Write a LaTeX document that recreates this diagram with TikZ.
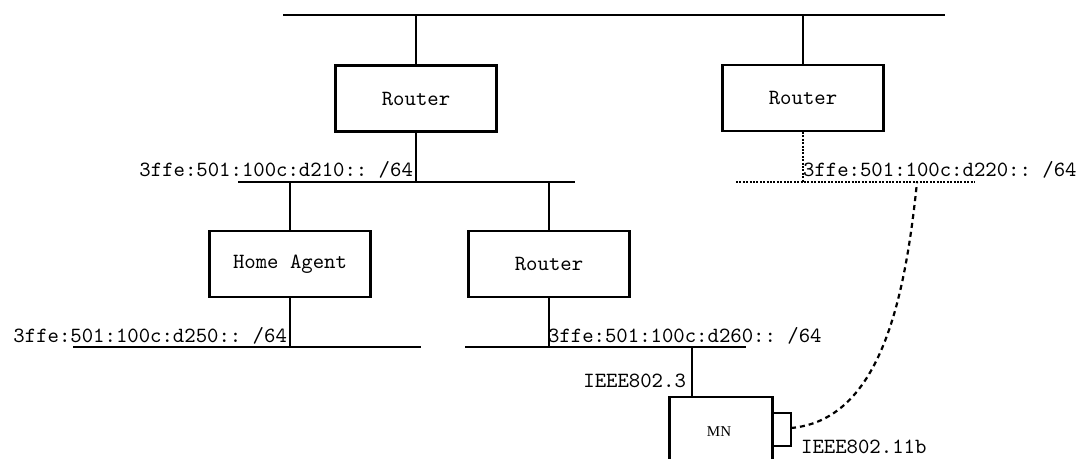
\documentclass[tikz,border=0pt]{standalone}
\usepackage{fontspec}
\newfontfamily\mnfont{Liberation Serif}
\usepackage{tikz}
\usetikzlibrary{positioning}

\begin{document}
\frenchspacing
\begin{tikzpicture}[x=0.5pt, y=-0.5pt, line width=1.1pt,
	box/.style={draw, line width=1.1pt, minimum width=80.5pt, minimum height=33pt, inner sep=0pt, font=\ttfamily\fontsize{10.85}{12}\selectfont},
	net/.style={inner sep=0pt, font=\ttfamily\fontsize{10.85}{12}\selectfont},
	wlan/.style={dash pattern=on 2.5pt off 2pt},
	link/.style={dash pattern=on 1pt off 0.7pt}]

\clip (0,0) rectangle (1079,459); % page

\coordinate (top w) at (283,15);
\coordinate (top e) at (945,15);
\coordinate (lan210 w) at (238,182);
\coordinate (lan210 e) at (575,182);
\coordinate (lan250 w) at (73,347);
\coordinate (lan250 e) at (421,347);
\coordinate (lan260 w) at (465,347);
\coordinate (lan260 e) at (746,347);
\coordinate (lan220 w) at (736,182);
\coordinate (lan220 e) at (975,182);
\coordinate (lan220 ap) at (917,182);

\foreach \n in {top, lan210, lan250, lan260} {
	\draw (\n\space w) -- (\n\space e); % subnet
}
\draw[link] (lan220 w) -- (lan220 e); % foreign subnet

\node[box] (r1) at (416,98.5) {Router};
\node[box] (r2) at (803,98) {Router};
\node[box] (ha) at (290,264) {Home Agent};
\node[box] (r3) at (549,264) {\raisebox{-3pt}{Router}};
\node[draw, minimum width=51.5pt, minimum height=35pt, font=\mnfont\fontsize{7.5}{9}\selectfont] (mn) at (721,432) {\hspace*{-2pt}MN};

\draw (r1) -- (r1 |- top w);
\draw (r1) -- (r1 |- lan210 w);
\draw (r2) -- (r2 |- top w);
\draw[link] (r2) -- (r2 |- lan220 w);
\draw (ha) -- (ha |- lan210 w);
\draw (ha) -- (ha |- lan250 w);
\draw (r3) -- (r3 |- lan210 w);
\draw (r3) -- (r3 |- lan260 w);

\coordinate (mn wire) at (692,397);
\draw (mn wire) -- (mn wire |- lan260 w); % IEEE802.3

\coordinate (ant top) at (791,413);
\coordinate (ant bot) at (791,446);
\coordinate (ant) at (791,428);
\draw (mn.east |- ant top) -- (ant top) -- (ant bot) -- (mn.east |- ant bot); % wlan card
\draw[wlan] (ant) .. controls (880,420) and (905,300) .. (lan220 ap);

\node[net, anchor=base east] (l210) at (414,177) {3ffe:501:100c:d210:: /64};
\node[net, anchor=base west] (l220) at (802,177) {3ffe:501:100c:d220:: /64};
\node[net, anchor=base east] (l250) at (288,342) {3ffe:501:100c:d250:: /64};
\node[net, anchor=base west] (l260) at (547,342) {3ffe:501:100c:d260:: /64};
\node[net, anchor=east] (l8023) at (687,381) {IEEE802.3};
\node[net, anchor=west] (l80211) at (800,447) {IEEE802.11b};

\end{tikzpicture}
\end{document}
